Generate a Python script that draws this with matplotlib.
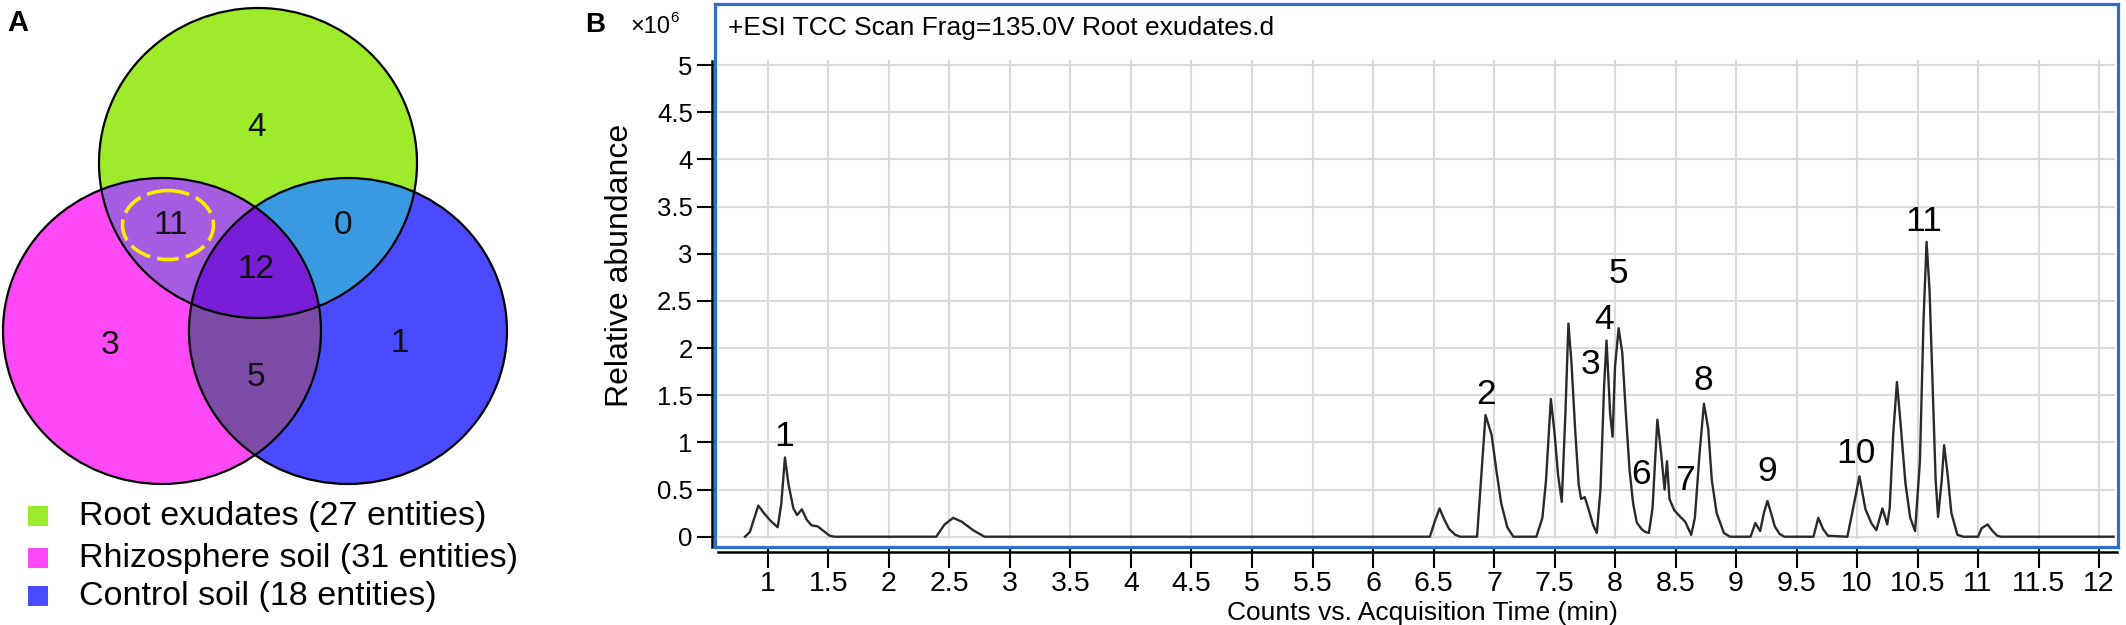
import matplotlib
matplotlib.use("Agg")
import matplotlib.pyplot as plt
import numpy as np
from matplotlib.patches import Ellipse, Rectangle

plt.rcParams['font.family'] = ['Liberation Sans', 'DejaVu Sans']

# ---- panel A data (Venn counts) ----
set_names = ['Root exudates (27 entities)', 'Rhizosphere soil (31 entities)', 'Control soil (18 entities)']
only_root, only_rhizo, only_ctrl = 4, 3, 1
root_rhizo, root_ctrl, rhizo_ctrl, all_three = 11, 0, 5, 12

# ---- panel B data (chromatogram, x10^6) ----
times = [0.81, 0.85, 0.88, 0.92, 0.96, 1.02, 1.08, 1.11, 1.14, 1.17, 1.21, 1.24, 1.28, 1.32, 1.36, 1.41,
         1.46, 1.51, 1.55, 2.39, 2.46, 2.53, 2.60, 2.70, 2.79, 6.47, 6.51, 6.55, 6.59, 6.63, 6.68, 6.72,
         6.86, 6.89, 6.93, 6.98, 7.02, 7.06, 7.11, 7.16, 7.35, 7.40, 7.43, 7.47, 7.50, 7.53, 7.56, 7.59,
         7.615, 7.64, 7.67, 7.70, 7.72, 7.75, 7.78, 7.82, 7.85, 7.88, 7.91, 7.93, 7.96, 7.98, 8.00, 8.03,
         8.06, 8.09, 8.12, 8.15, 8.18, 8.22, 8.25, 8.28, 8.31, 8.35, 8.38, 8.41, 8.43, 8.45, 8.49, 8.54,
         8.58, 8.63, 8.66, 8.70, 8.735, 8.77, 8.80, 8.84, 8.90, 8.95, 9.12, 9.16, 9.20, 9.23, 9.26, 9.29,
         9.32, 9.36, 9.40, 9.64, 9.68, 9.72, 9.76, 9.92, 9.96, 10.02, 10.07, 10.12, 10.16, 10.21, 10.25,
         10.27, 10.30, 10.33, 10.36, 10.40, 10.44, 10.48, 10.52, 10.55, 10.575, 10.60, 10.63, 10.65, 10.67,
         10.70, 10.72, 10.75, 10.78, 10.83, 10.88, 11.00, 11.03, 11.08, 11.12, 11.16, 11.19, 12.12]
abundance = [0.00, 0.05, 0.17, 0.33, 0.26, 0.17, 0.10, 0.35, 0.84, 0.55, 0.30, 0.23, 0.29, 0.18, 0.12, 0.11,
             0.06, 0.01, 0.00, 0.00, 0.13, 0.20, 0.16, 0.065, 0.00, 0.00, 0.16, 0.30, 0.18, 0.08, 0.02, 0.00,
             0.00, 0.55, 1.29, 1.08, 0.70, 0.35, 0.10, 0.00, 0.00, 0.20, 0.60, 1.46, 1.10, 0.65, 0.37, 1.30,
             2.26, 1.85, 1.15, 0.55, 0.40, 0.42, 0.30, 0.12, 0.04, 0.50, 1.60, 2.08, 1.30, 1.06, 1.80, 2.21,
             1.95, 1.30, 0.71, 0.35, 0.15, 0.08, 0.05, 0.04, 0.30, 1.24, 0.90, 0.50, 0.80, 0.40, 0.28, 0.21,
             0.16, 0.02, 0.20, 0.90, 1.41, 1.15, 0.60, 0.25, 0.04, 0.00, 0.00, 0.145, 0.06, 0.25, 0.38, 0.25,
             0.11, 0.03, 0.00, 0.00, 0.20, 0.08, 0.01, 0.00, 0.25, 0.64, 0.29, 0.14, 0.07, 0.30, 0.13,
             0.30, 1.10, 1.64, 1.20, 0.57, 0.20, 0.06, 0.80, 2.30, 3.125, 2.60, 1.41, 0.60, 0.21,
             0.60, 0.97, 0.65, 0.25, 0.02, 0.00, 0.00, 0.09, 0.13, 0.06, 0.01, 0.00, 0.00]

peak_labels = ['1', '2', '3', '4', '5', '6', '7', '8', '9', '10', '11']
peak_label_t = [1.135, 6.934, 7.80, 7.91, 8.03, 8.215, 8.58, 8.73, 9.26, 9.99, 10.55]
peak_label_v = [1.06, 1.51, 1.83, 2.30, 2.79, 0.66, 0.60, 1.66, 0.69, 0.88, 3.34]

W, H = 2126, 625
fig = plt.figure(figsize=(W / 100, H / 100), dpi=100)

def fx(px):
    return px / W

def fy(py):
    return 1 - py / H

# ================= panel A =================
axA = fig.add_axes([0, 0, 560 / W, 1])
axA.set_xlim(0, 560)
axA.set_ylim(625, 0)
axA.axis('off')

c_root, c_rhizo, c_ctrl = '#9DEB2B', '#FF48F6', '#4A4AFF'
c_root_rhizo, c_root_ctrl, c_rhizo_ctrl, c_all = '#A45DE0', '#3A9AE1', '#7C4BA6', '#781ED6'

circles = [(258, 163, 318, 310), (162, 331, 318, 306), (348, 331, 318, 306)]

yy, xx = np.mgrid[0:625, 0:560] + 0.5
def inside(c):
    cx, cy, w, h = c
    return ((xx - cx) / (w / 2)) ** 2 + ((yy - cy) / (h / 2)) ** 2 <= 1

g, p, b = inside(circles[0]), inside(circles[1]), inside(circles[2])
img = np.ones((625, 560, 3))
def paint(mask, col):
    img[mask] = matplotlib.colors.to_rgb(col)
paint(g & ~p & ~b, c_root)
paint(p & ~g & ~b, c_rhizo)
paint(b & ~g & ~p, c_ctrl)
paint(g & p & ~b, c_root_rhizo)
paint(g & b & ~p, c_root_ctrl)
paint(p & b & ~g, c_rhizo_ctrl)
paint(g & p & b, c_all)
axA.imshow(img, extent=(0, 560, 625, 0), interpolation='nearest', aspect='auto', zorder=0)

for cx, cy, w, h in circles:
    axA.add_patch(Ellipse((cx, cy), w, h, fill=False, ec='black', lw=1.6, zorder=2))

axA.add_patch(Ellipse((168, 225), 91, 69, fill=False, ec='#FFEA00', lw=2.6,
                      ls=(0, (6, 2)), zorder=3))

counts = [only_root, root_rhizo, root_ctrl, all_three, only_rhizo, only_ctrl, rhizo_ctrl]
count_pos = [(257, 127), (171, 225), (343, 225), (256, 269), (110, 346), (400, 343), (256, 378)]
for n, (x, y) in zip(counts, count_pos):
    axA.text(x, y, str(n), ha='center', va='center', fontsize=24, color='#111111', zorder=4)

legend_cols = [c_root, c_rhizo, c_ctrl]
legend_y = [516, 558, 596]
for name, col, y in zip(set_names, legend_cols, legend_y):
    axA.add_patch(Rectangle((28, y - 10), 20, 20, fc=col, ec='none'))
    axA.text(79, y, name, ha='left', va='center', fontsize=24.5, color='black')

fig.text(fx(7), fy(31), 'A', fontsize=21, fontweight='bold', va='baseline', ha='left')

# ================= panel B =================
left, right, top, bottom = 715, 2118, 4, 547
axB = fig.add_axes([fx(left), fy(bottom), (right - left) / W, (bottom - top) / H])
axB.set_xlim(0.562, 12.157)
axB.set_ylim(-0.109, 5.647)
for s in axB.spines.values():
    s.set_color('#2F6FCB')
    s.set_linewidth(2.3)

xt = np.arange(1, 12.01, 0.5)
yt = np.arange(0, 5.01, 0.5)
axB.hlines(yt, 0.587, 12.13, color='#DADADA', lw=1.5, zorder=0)
axB.vlines(xt, -0.02, 5.05, color='#DADADA', lw=1.5, zorder=0)

axB.set_xticks(xt)
axB.set_xticklabels(['%g' % v for v in xt])
axB.set_yticks(yt)
axB.set_yticklabels(['%g' % v for v in yt])
axB.tick_params(axis='x', direction='out', length=15, width=1.5, pad=2, labelsize=20.5, color='black')
axB.tick_params(axis='y', direction='out', length=13, width=1.5, pad=3, labelsize=18.5, color='black')

# black axis lines sitting just outside the blue frame
axB.plot([-3 / 1403, -3 / 1403], [5.04, -0.109], transform=axB.get_yaxis_transform(),
         color='black', lw=1.8, clip_on=False)
axB.plot([0.587, 12.149], [-5 / 543, -5 / 543], transform=axB.get_xaxis_transform(),
         color='black', lw=1.8, clip_on=False)

axB.plot(times, abundance, color='#2A2A2A', lw=1.7, zorder=3)

for lab, t, v in zip(peak_labels, peak_label_t, peak_label_v):
    axB.text(t, v, lab, ha='center', va='center', fontsize=25.5, color='black', zorder=4)

fig.text(fx(728), fy(35), '+ESI TCC Scan Frag=135.0V Root exudates.d', fontsize=19, va='baseline')
fig.text(fx(620), fy(265), 'Relative abundance', rotation=90, ha='center', va='center', fontsize=23)
fig.text(fx(1422), fy(620), 'Counts vs. Acquisition Time (min)', ha='center', va='baseline', fontsize=19)
fig.text(fx(585), fy(32), 'B', fontsize=20, fontweight='bold', va='baseline')
fig.text(fx(630), fy(33), '\u00d710', fontsize=17, va='baseline')
fig.text(fx(670), fy(22), '6', fontsize=11, va='baseline')

fig.savefig('out.png', dpi=100)
